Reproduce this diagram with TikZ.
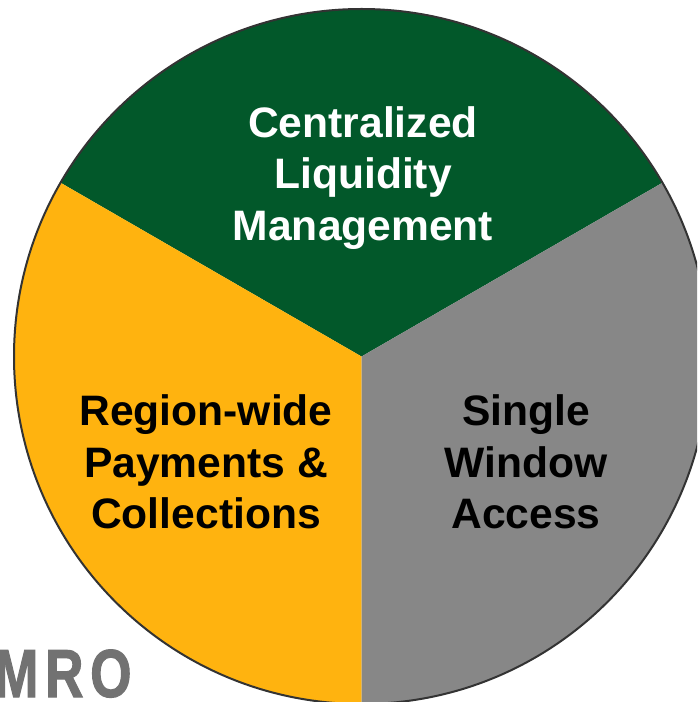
\documentclass[tikz,border=0pt]{standalone}
\usepackage{fontspec}
\setmainfont{Liberation Sans}
\newfontfamily\logofont[FakeStretch=0.78,FakeBold=1.5,LetterSpace=10]{Liberation Sans Bold}
\usetikzlibrary{positioning}
\definecolor{darkgreen}{HTML}{02582A}
\definecolor{amber}{HTML}{FFB30F}
\definecolor{midgray}{HTML}{878787}
\definecolor{logogray}{HTML}{727272}

\begin{document}
\begin{tikzpicture}[x=1pt, y=1pt, rim/.style = {draw=black!80, line width=2pt},
    blocktext/.style = {font=\fontsize{42.6}{51.5}\selectfont\bfseries, align=center, inner sep=0pt}]
          \useasboundingbox (0,0) rectangle (697,702);
          \clip (0,0) rectangle (697,702);
          \coordinate (c) at (361.5,345.5);
          \fill[darkgreen] (c) -- ++(30:347.5) arc (30:150:347.5) -- cycle;
          \fill[amber] (c) -- ++(150:347.5) arc (150:270:347.5) -- cycle;
          \fill[midgray] (c) -- ++(270:347.5) arc (270:390:347.5) -- cycle;
          \draw[rim] (c) circle (347.5);
          \node[blocktext, text=white](liquidity) at (363,524){Centralized\\Liquidity\\Management};
          \node[blocktext, text=black](payments) at (206,240){Region-wide\\Payments \&\\Collections};
          \node[blocktext, text=black](access) at (526,240){Single\\Window\\Access};
          \node[text=logogray, inner sep=0pt, anchor=base west](logo) at (-6,5){\fontsize{68}{68}\selectfont\logofont MRO};
        \end{tikzpicture}
\end{document}
